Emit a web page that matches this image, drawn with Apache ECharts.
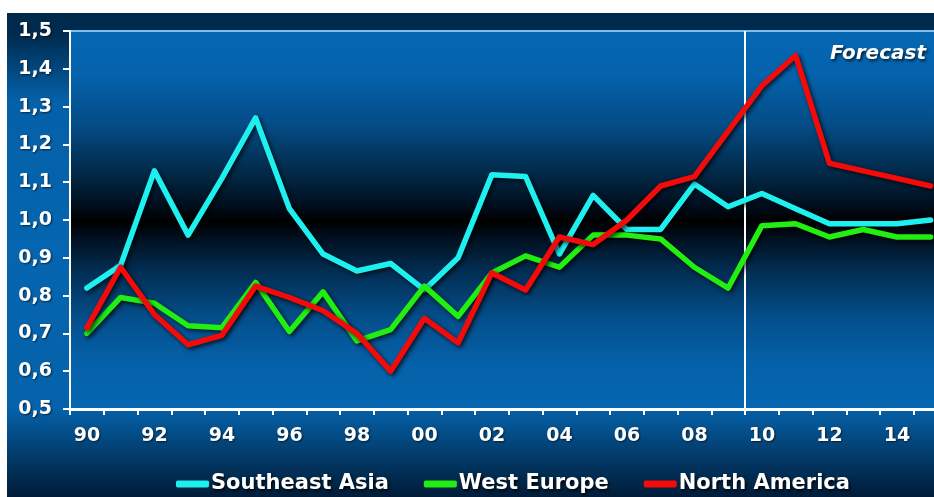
<!DOCTYPE html>
<html>
<head>
<meta charset="utf-8">
<title>Ratio by region</title>
<script src="https://cdn.jsdelivr.net/npm/echarts@6/dist/echarts.min.js"></script>
<style>
  html, body { margin: 0; padding: 0; background: #ffffff; }
  #chart { width: 934px; height: 497px; }
</style>
</head>
<body>
<div id="chart"></div>
<script>
// Years 1990–2015, labelled with two digits
const years = ['90','91','92','93','94','95','96','97','98','99',
               '00','01','02','03','04','05','06','07','08','09',
               '10','11','12','13','14','15'];

const southeastAsia = [0.82, 0.88, 1.13, 0.96, 1.11, 1.27, 1.03, 0.91, 0.865, 0.885,
                       0.815, 0.90, 1.12, 1.115, 0.91, 1.065, 0.975, 0.975, 1.095, 1.035,
                       1.07, 1.03, 0.99, 0.99, 0.99, 1.00];

const westEurope = [0.70, 0.795, 0.78, 0.72, 0.715, 0.835, 0.705, 0.81, 0.68, 0.71,
                    0.825, 0.745, 0.86, 0.905, 0.875, 0.96, 0.96, 0.95, 0.875, 0.82,
                    0.985, 0.99, 0.955, 0.975, 0.955, 0.955];

const northAmerica = [0.715, 0.875, 0.75, 0.67, 0.695, 0.825, 0.795, 0.76, 0.70, 0.60,
                      0.74, 0.675, 0.86, 0.815, 0.955, 0.935, 1.00, 1.09, 1.115, 1.235,
                      1.355, 1.435, 1.15, 1.13, 1.11, 1.09];

// Position of the forecast divider, in category units (between 2009 and 2010)
const forecastStart = 19.5;

const yTicks = { min: 0.5, max: 1.5, step: 0.1 };

const chart = echarts.init(document.getElementById('chart'), null, { renderer: 'canvas' });

const shadow = {
  shadowColor: 'rgba(0,0,0,0.75)',
  shadowBlur: 4,
  shadowOffsetX: 2,
  shadowOffsetY: 2
};

function lineSeries(name, data, color) {
  return {
    name: name,
    type: 'line',
    data: data,
    xAxisIndex: 0,
    yAxisIndex: 0,
    symbol: 'none',
    smooth: false,
    color: color,
    lineStyle: Object.assign({ width: 5.5, color: color, join: 'round', cap: 'round' }, shadow),
    z: 5
  };
}

const option = {
  animation: false,
  graphic: [
    {
      type: 'rect', z: -100, silent: true,
      shape: { x: 0, y: 0, width: 934, height: 497 },
      style: {
        fill: new echarts.graphic.LinearGradient(0, 0, 0, 1, [
          { offset: 0.0, color: '#00284a' },
          { offset: 0.07, color: '#002b4e' },
          { offset: 0.2, color: '#0460a8' },
          { offset: 0.5, color: '#0565b0' },
          { offset: 0.82, color: '#0562aa' },
          { offset: 0.92, color: '#023a68' },
          { offset: 1.0, color: '#001c38' }
        ])
      }
    },
    {
      type: 'text', z: 99, silent: true,
      left: 10, top: -2,
      style: {
        text: 'Ratio',
        fill: '#ffffff',
        font: 'bold 20px "DejaVu Sans"'
      }
    },
    {
      type: 'rect', z: 100, silent: true,
      shape: { x: 0, y: 0, width: 934, height: 13 },
      style: { fill: '#ffffff' }
    },
    {
      type: 'rect', z: 100, silent: true,
      shape: { x: 0, y: 0, width: 7, height: 497 },
      style: { fill: '#ffffff' }
    },
    {
      type: 'text', z: 50, silent: true,
      right: 8, top: 44,
      style: {
        text: 'Forecast',
        fill: '#ffffff',
        font: 'italic bold 20px "DejaVu Sans"',
        textShadowColor: 'rgba(0,0,0,0.7)',
        textShadowBlur: 3,
        textShadowOffsetX: 1.5,
        textShadowOffsetY: 1.5
      }
    }
  ],
  grid: {
    left: 70,
    top: 31,
    right: -13.5,
    height: 378,
    outerBoundsMode: 'none',
    show: true,
    borderWidth: 2,
    borderColor: '#7dbfec',
    backgroundColor: new echarts.graphic.LinearGradient(0, 0, 0, 1, [
      { offset: 0.0, color: '#0567b3' },
      { offset: 0.12, color: '#0562ac' },
      { offset: 0.25, color: '#044c86' },
      { offset: 0.38, color: '#022846' },
      { offset: 0.46, color: '#010f1e' },
      { offset: 0.503, color: '#000000' },
      { offset: 0.545, color: '#010f1e' },
      { offset: 0.63, color: '#022c50' },
      { offset: 0.76, color: '#044f8c' },
      { offset: 0.88, color: '#0561a9' },
      { offset: 1.0, color: '#0566b0' }
    ]),
    containLabel: false
  },
  legend: {
    left: 176,
    top: 473,
    padding: 0,
    icon: 'roundRect',
    itemWidth: 33,
    itemHeight: 7,
    itemGap: 35,
    data: ['Southeast Asia', 'West Europe', 'North America'],
    textStyle: {
      color: '#ffffff',
      fontFamily: 'DejaVu Sans',
      fontWeight: 'bold',
      fontSize: 21,
      lineHeight: 22,
      padding: [0, 0, 0, -3],
      textShadowColor: 'rgba(0,0,0,0.85)',
      textShadowBlur: 3,
      textShadowOffsetX: 1.5,
      textShadowOffsetY: 1.5
    }
  },
  xAxis: [
    {
      type: 'category',
      data: years,
      boundaryGap: true,
      axisLine: { show: true, lineStyle: { color: '#ffffff', width: 3 } },
      axisTick: { show: true, interval: 0, length: 6, lineStyle: { color: '#ffffff', width: 2 } },
      axisLabel: {
        interval: 1,
        margin: 18,
        color: '#ffffff',
        fontFamily: 'DejaVu Sans',
        fontWeight: 'bold',
        fontSize: 19,
        textShadowColor: 'rgba(0,0,0,0.6)',
        textShadowBlur: 2,
        textShadowOffsetX: 1,
        textShadowOffsetY: 1
      },
      splitLine: { show: false },
      z: 10
    },
    {
      // Continuous companion axis in category units, used to place the forecast divider
      type: 'value',
      min: -0.5,
      max: years.length - 0.5,
      show: false,
      position: 'bottom'
    }
  ],
  yAxis: {
    type: 'value',
    min: yTicks.min,
    max: yTicks.max,
    interval: yTicks.step,
    axisLine: { show: true, onZero: false, lineStyle: { color: '#ffffff', width: 2 } },
    axisTick: { show: true, inside: false, length: 7, lineStyle: { color: '#ffffff', width: 2 } },
    axisLabel: {
      margin: 18,
      color: '#ffffff',
      fontFamily: 'DejaVu Sans',
      fontWeight: 'bold',
      fontSize: 19,
      formatter: v => v.toFixed(1).replace('.', ','),
      textShadowColor: 'rgba(0,0,0,0.6)',
      textShadowBlur: 2,
      textShadowOffsetX: 1,
      textShadowOffsetY: 1
    },
    splitLine: { show: false },
    z: 10
  },
  series: [
    {
      name: 'forecast-divider',
      type: 'line',
      xAxisIndex: 1,
      yAxisIndex: 0,
      data: [],
      silent: true,
      markLine: {
        silent: true,
        symbol: 'none',
        label: { show: false },
        lineStyle: { color: '#ffffff', width: 2, type: 'solid' },
        emphasis: { disabled: true },
        data: [{ xAxis: forecastStart }]
      },
      z: 4
    },
    lineSeries('Southeast Asia', southeastAsia, '#1ef0f0'),
    lineSeries('West Europe', westEurope, '#22ee11'),
    lineSeries('North America', northAmerica, '#f50a0a')
  ]
};

chart.setOption(option);
</script>
</body>
</html>
